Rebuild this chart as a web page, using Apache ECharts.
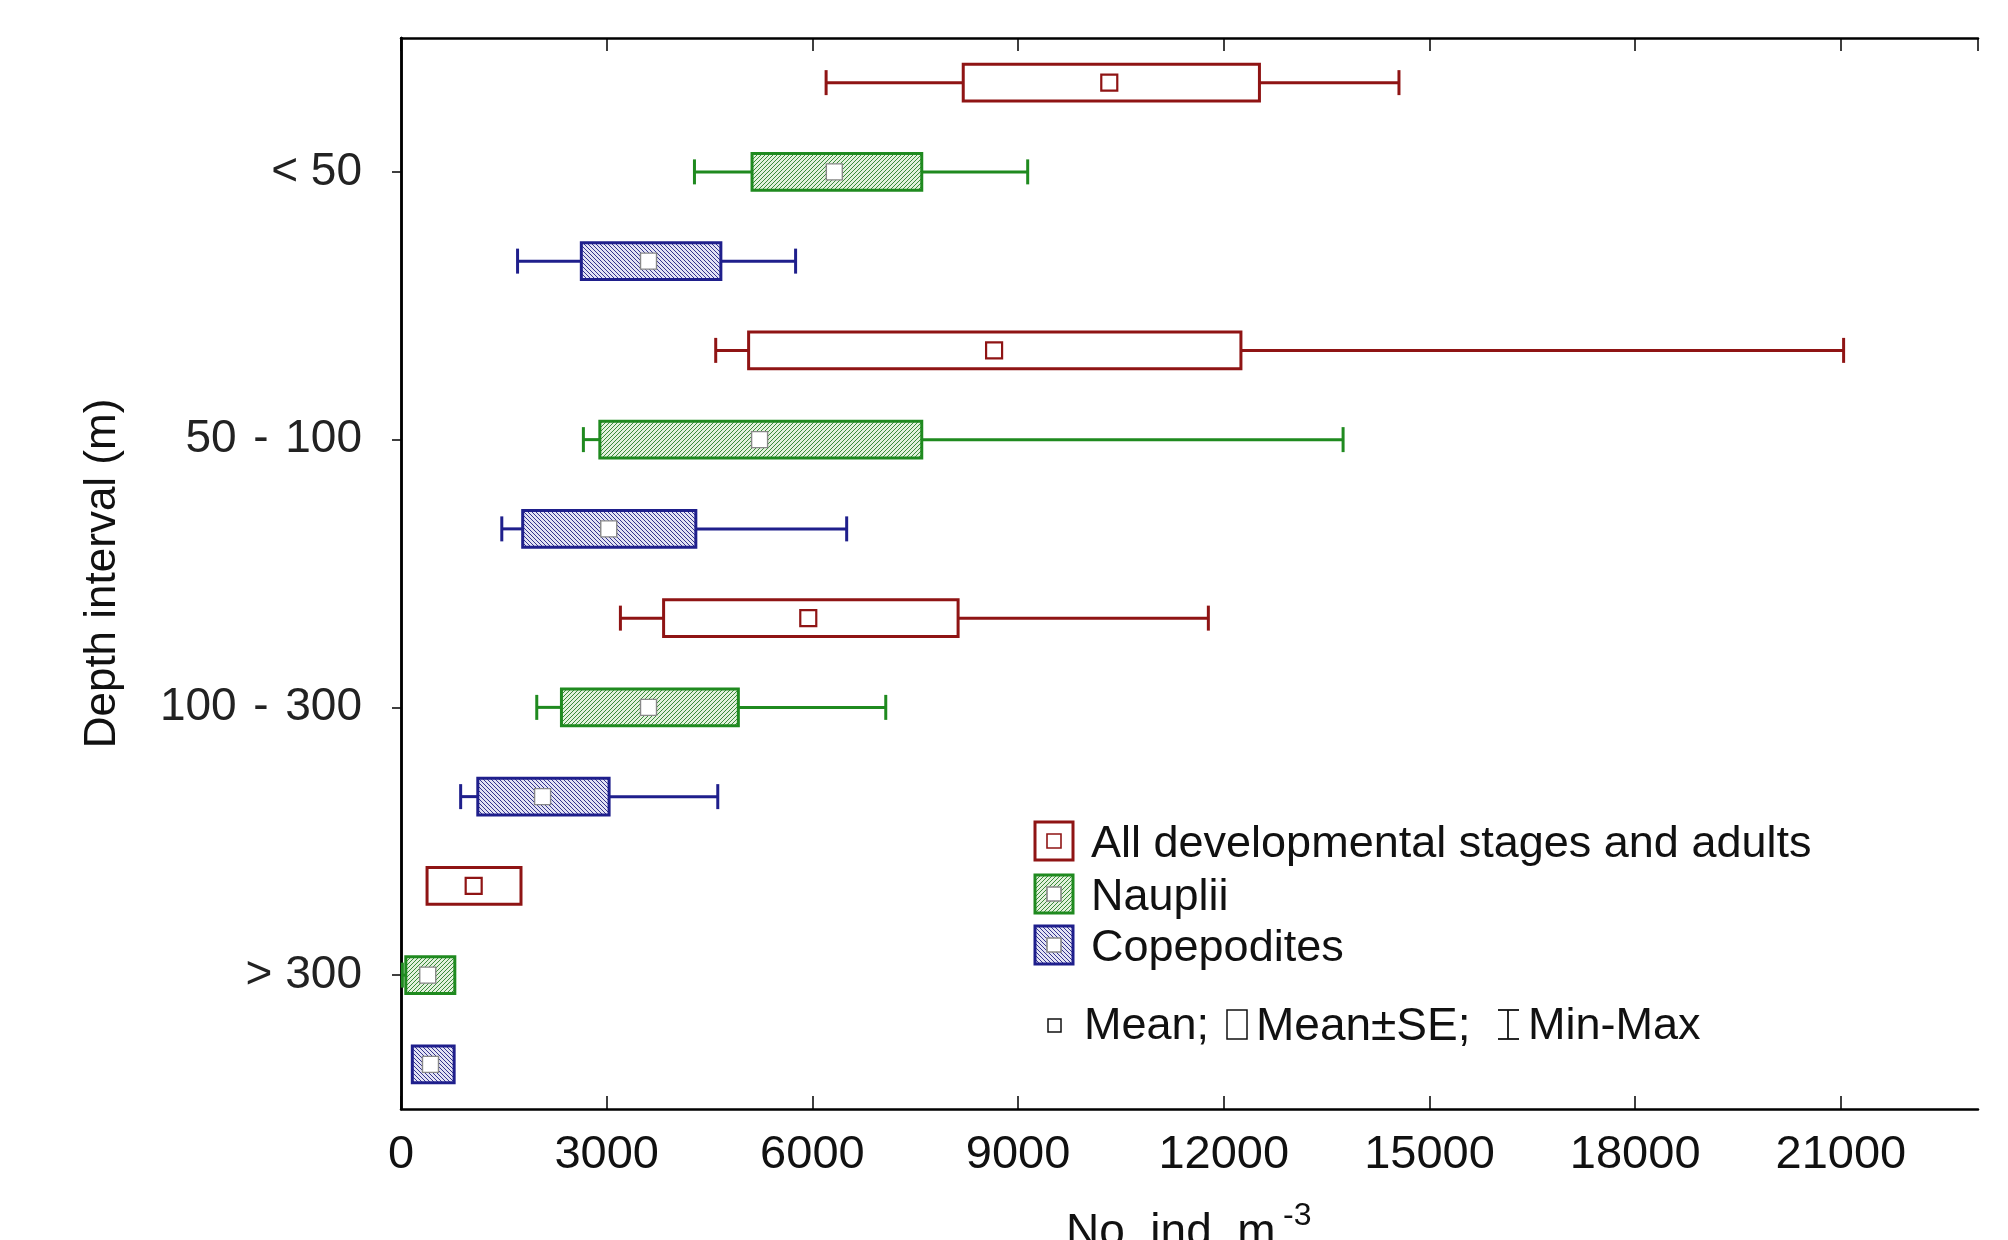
<!DOCTYPE html>
<html>
<head>
<meta charset="utf-8">
<script src="https://cdn.jsdelivr.net/npm/echarts@6/dist/echarts.min.js"></script>
<style>
  html, body { margin: 0; padding: 0; background: #fff; }
  #chart { width: 2008px; height: 1240px; }
</style>
</head>
<body>
<div id="chart"></div>
<script>
const depthGroups = ['< 50', '50 \u200A- \u200A100', '100 \u200A- \u200A300', '> 300']
const stages = ['All developmental stages and adults', 'Nauplii', 'Copepodites']
const xTicks = [0, 3000, 6000, 9000, 12000, 15000, 18000, 21000]

// values per depth group: min, mean-SE, mean, mean+SE, max
const allMin = [6200, 4590, 3200, 380]
const allLow = [8200, 5070, 3830, 380]
const allMean = [10330, 8650, 5940, 1060]
const allHigh = [12520, 12250, 8125, 1750]
const allMax = [14555, 21040, 11775, 1750]

const naupMin = [4280, 2660, 1980, 20]
const naupLow = [5120, 2900, 2340, 70]
const naupMean = [6320, 5230, 3610, 390]
const naupHigh = [7595, 7595, 4920, 785]
const naupMax = [9140, 13740, 7070, 785]

const copeMin = [1700, 1470, 870, 165]
const copeLow = [2630, 1775, 1120, 165]
const copeMean = [3610, 3030, 2065, 430]
const copeHigh = [4665, 4300, 3035, 775]
const copeMax = [5755, 6500, 4620, 775]

const FONT = '"Liberation Sans", Arial, sans-serif'
const RED = '#8f1414'
const GREEN = '#1f8a1f'
const BLUE = '#1f1f8c'

// small repeating tile with diagonal hatch lines
function hatch(bg, line, slash) {
  const n = 4
  const c = document.createElement('canvas')
  c.width = n
  c.height = n
  const ctx = c.getContext('2d')
  ctx.fillStyle = bg
  ctx.fillRect(0, 0, n, n)
  ctx.strokeStyle = line
  ctx.lineWidth = 1.0
  ctx.beginPath()
  if (slash) {
    ctx.moveTo(-1, n + 1); ctx.lineTo(n + 1, -1)
    ctx.moveTo(-1, 1); ctx.lineTo(1, -1)
    ctx.moveTo(n - 1, n + 1); ctx.lineTo(n + 1, n - 1)
  } else {
    ctx.moveTo(-1, -1); ctx.lineTo(n + 1, n + 1)
    ctx.moveTo(n - 1, -1); ctx.lineTo(n + 1, 1)
    ctx.moveTo(-1, n - 1); ctx.lineTo(1, n + 1)
  }
  ctx.stroke()
  return c
}

const fills = [
  '#ffffff',
  { image: hatch('#e2f1dc', '#3a8a3a', true), repeat: 'repeat' },
  { image: hatch('#e2e2f4', '#34348c', false), repeat: 'repeat' }
]
const colors = [RED, GREEN, BLUE]
const stageData = [
  [allMin, allLow, allMean, allHigh, allMax],
  [naupMin, naupLow, naupMean, naupHigh, naupMax],
  [copeMin, copeLow, copeMean, copeHigh, copeMax]
]

// 12 rows: each depth group holds three stages
const rows = []
depthGroups.forEach((g, gi) => stages.forEach((s, si) => rows.push(gi * 3 + si)))

const isLabelRow = (i) => i % 3 === 1

function makeRender(si) {
  return function (params, api) {
    const row = api.value(0)
    const pMin = api.coord([api.value(1), row])
    const pLow = api.coord([api.value(2), row])
    const pMean = api.coord([api.value(3), row])
    const pHigh = api.coord([api.value(4), row])
    const pMax = api.coord([api.value(5), row])
    const band = api.size([0, 1])[1]
    const y = pMean[1]
    const boxH = band * 0.41
    const capH = band * 0.28
    const lw = 3
    const col = colors[si]
    const children = []
    if (pMin[0] < pLow[0] - 1) {
      children.push({ type: 'line', shape: { x1: pMin[0], y1: y, x2: pLow[0], y2: y }, style: { stroke: col, lineWidth: lw } })
      children.push({ type: 'line', shape: { x1: pMin[0], y1: y - capH / 2, x2: pMin[0], y2: y + capH / 2 }, style: { stroke: col, lineWidth: lw } })
    }
    if (pMax[0] > pHigh[0] + 1) {
      children.push({ type: 'line', shape: { x1: pHigh[0], y1: y, x2: pMax[0], y2: y }, style: { stroke: col, lineWidth: lw } })
      children.push({ type: 'line', shape: { x1: pMax[0], y1: y - capH / 2, x2: pMax[0], y2: y + capH / 2 }, style: { stroke: col, lineWidth: lw } })
    }
    children.push({
      type: 'rect',
      shape: { x: pLow[0], y: y - boxH / 2, width: pHigh[0] - pLow[0], height: boxH },
      style: { fill: fills[si], stroke: col, lineWidth: lw }
    })
    children.push({
      type: 'rect',
      shape: { x: pMean[0] - 8, y: y - 8, width: 16, height: 16 },
      style: { fill: '#ffffff', stroke: si === 0 ? col : '#888888', lineWidth: si === 0 ? 2.2 : 1.4 }
    })
    return { type: 'group', children }
  }
}

const series = stages.map((name, si) => ({
  name,
  type: 'custom',
  renderItem: makeRender(si),
  encode: { x: [1, 2, 3, 4, 5], y: 0 },
  data: depthGroups.map((g, gi) => [gi * 3 + si].concat(stageData[si].map(arr => arr[gi]))),
  z: 3
}))

// legend drawn as graphic items
const legendX = 1035
const legendY = [822, 875, 926]
const legendItems = []
stages.forEach((name, si) => {
  legendItems.push({
    type: 'rect',
    shape: { x: legendX, y: legendY[si], width: 38, height: 38 },
    style: { fill: fills[si], stroke: colors[si], lineWidth: 3 }
  })
  legendItems.push({
    type: 'rect',
    shape: { x: legendX + 12, y: legendY[si] + 12, width: 14, height: 14 },
    style: { fill: '#ffffff', stroke: si === 0 ? colors[si] : '#888888', lineWidth: 1.6 }
  })
  legendItems.push({
    type: 'text',
    x: 1091, y: legendY[si] + 23,
    style: { text: name, font: '45px ' + FONT, fill: '#111', verticalAlign: 'middle' }
  })
})
const keyY = 1027
legendItems.push(
  { type: 'rect', shape: { x: 1048, y: keyY - 8, width: 13, height: 13 }, style: { fill: '#fff', stroke: '#111', lineWidth: 1.5 } },
  { type: 'text', x: 1084, y: keyY, style: { text: 'Mean;', font: '45px ' + FONT, fill: '#111', verticalAlign: 'middle' } },
  { type: 'rect', shape: { x: 1227, y: keyY - 17, width: 20, height: 29 }, style: { fill: '#fff', stroke: '#111', lineWidth: 1.5 } },
  { type: 'text', x: 1256, y: keyY, style: { text: 'Mean±SE;', font: '46px ' + FONT, fill: '#111', verticalAlign: 'middle' } },
  { type: 'line', shape: { x1: 1508, y1: keyY - 17, x2: 1508, y2: keyY + 12 }, style: { stroke: '#111', lineWidth: 1.8 } },
  { type: 'line', shape: { x1: 1498, y1: keyY - 17, x2: 1519, y2: keyY - 17 }, style: { stroke: '#111', lineWidth: 1.8 } },
  { type: 'line', shape: { x1: 1498, y1: keyY + 12, x2: 1519, y2: keyY + 12 }, style: { stroke: '#111', lineWidth: 1.8 } },
  { type: 'text', x: 1528, y: keyY, style: { text: 'Min-Max', font: '45px ' + FONT, fill: '#111', verticalAlign: 'middle' } },
  // x axis title, cut by the bottom edge like the source
  { type: 'text', x: 1066, y: 1210, style: { text: 'No. ind. m', font: '46px ' + FONT, fill: '#111', verticalAlign: 'top' } },
  { type: 'text', x: 1283, y: 1200, style: { text: '-3', font: '32px ' + FONT, fill: '#111', verticalAlign: 'top' } }
)

const chart = echarts.init(document.getElementById('chart'), null, { renderer: 'canvas' })

const axisLine = { show: true, lineStyle: { color: '#000', width: 2.5 } }

chart.setOption({
  backgroundColor: '#ffffff',
  animation: false,
  grid: { left: 401, right: 30, top: 38, bottom: 131, containLabel: false },
  xAxis: [
    {
      type: 'value',
      position: 'bottom',
      min: 0,
      max: 23000,
      interval: 3000,
      axisLine,
      axisTick: { show: true, inside: true, length: 13, lineStyle: { color: '#000', width: 1.5 } },
      axisLabel: {
        margin: 23,
        fontSize: 47,
        fontFamily: FONT,
        color: '#111',
        showMaxLabel: false,
        formatter: (v) => (xTicks.indexOf(v) >= 0 ? String(v) : '')
      },
      splitLine: { show: false }
    },
    {
      type: 'value',
      position: 'top',
      min: 0,
      max: 23000,
      interval: 3000,
      axisLine,
      axisTick: { show: true, inside: true, length: 13, lineStyle: { color: '#000', width: 1.5 } },
      axisLabel: { show: false },
      splitLine: { show: false }
    }
  ],
  yAxis: [
    {
      type: 'category',
      position: 'left',
      inverse: true,
      data: rows,
      boundaryGap: true,
      name: 'Depth interval (m)',
      nameLocation: 'middle',
      nameRotate: 90,
      nameGap: 276,
      nameTextStyle: { fontSize: 44, fontFamily: FONT, color: '#111' },
      axisLine,
      axisTick: { show: true, inside: false, length: 9, alignWithLabel: true, interval: (i) => isLabelRow(i), lineStyle: { color: '#000', width: 1.5 } },
      axisLabel: {
        margin: 39,
        fontSize: 46,
        fontFamily: FONT,
        color: '#222',
        interval: (i) => isLabelRow(i),
        formatter: (v, i) => depthGroups[Math.floor(i / 3)]
      },
      splitLine: { show: false }
    },
    {
      type: 'category',
      position: 'right',
      inverse: true,
      data: rows,
      boundaryGap: true,
      axisLine,
      axisTick: { show: true, inside: true, length: 8, alignWithLabel: true, interval: (i) => isLabelRow(i), lineStyle: { color: '#000', width: 1.5 } },
      axisLabel: { show: false },
      splitLine: { show: false }
    }
  ],
  series,
  graphic: legendItems
})
</script>
</body>
</html>
